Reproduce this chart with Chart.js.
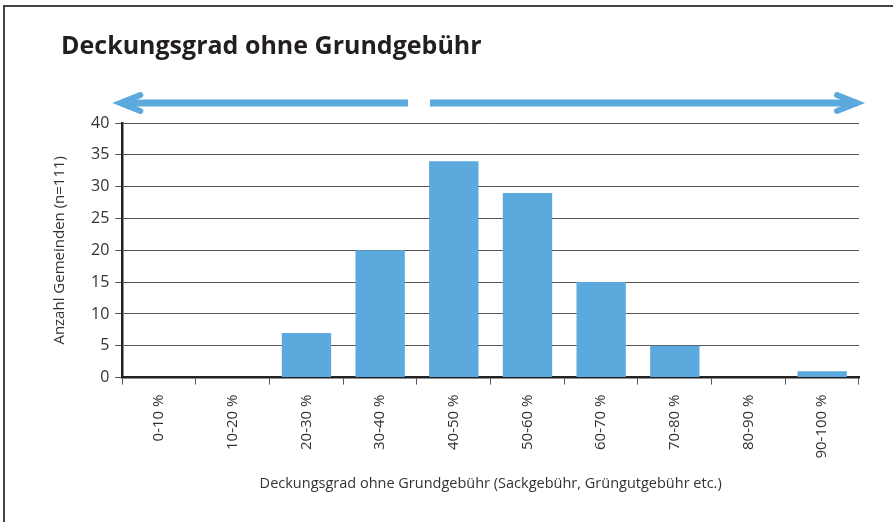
<!DOCTYPE html>
<html>
<head>
<meta charset="utf-8">
<script src="https://cdn.jsdelivr.net/npm/chart.js@4"></script>
<style>
  html, body { margin: 0; padding: 0; background: #fff; }
  #wrap { width: 893px; height: 522px; position: relative; }
</style>
</head>
<body>
<div id="wrap"><canvas id="bar-chart"></canvas></div>
<script>
var title = "Deckungsgrad ohne Grundgebühr";
var categories = ["0-10 %", "10-20 %", "20-30 %", "30-40 %", "40-50 %", "50-60 %", "60-70 %", "70-80 %", "80-90 %", "90-100 %"];
var counts = [0, 0, 7, 20, 34, 29, 15, 5, 0, 1];
var yTicks = [0, 5, 10, 15, 20, 25, 30, 35, 40];

var blue = "#5ca9dd";
var labelFont = "'Open Sans', sans-serif";

// frame on top/left edge, chart title and the two arrows above the plot
var decor = {
    id: 'decor',
    afterDraw: function (chart) {
        var ctx = chart.ctx;
        var area = chart.chartArea;
        var xs = chart.scales.x;
        ctx.save();
        ctx.strokeStyle = "#444";
        ctx.lineWidth = 2;
        ctx.beginPath();
        ctx.moveTo(4, chart.height);
        ctx.lineTo(4, 6);
        ctx.lineTo(chart.width, 6);
        ctx.stroke();

        ctx.fillStyle = "#231f20";
        ctx.font = "bold 25px 'Open Sans', sans-serif";
        ctx.textBaseline = "middle";
        ctx.textAlign = "left";
        ctx.fillText(title, 61, 47);

        var y = area.top - 20;
        var gap = (xs.getPixelForValue(3) + xs.getPixelForValue(4)) / 2;
        ctx.strokeStyle = blue;
        ctx.lineWidth = 7;
        ctx.lineCap = "butt";
        ctx.beginPath();
        ctx.moveTo(area.left - 1, y);
        ctx.lineTo(gap - 9, y);
        ctx.moveTo(gap + 13, y);
        ctx.lineTo(area.right - 2, y);
        ctx.stroke();
        ctx.lineCap = "round";
        ctx.lineJoin = "miter";
        ctx.lineWidth = 6;
        ctx.beginPath();
        ctx.moveTo(area.left + 18, y - 8);
        ctx.lineTo(area.left - 2, y);
        ctx.lineTo(area.left + 18, y + 8);
        ctx.moveTo(area.right - 22, y - 8);
        ctx.lineTo(area.right - 2, y);
        ctx.lineTo(area.right - 22, y + 8);
        ctx.stroke();
        ctx.restore();
    }
};

var chart = new Chart(document.getElementById("bar-chart"), {
    type: 'bar',
    data: {
        labels: categories,
        datasets: [{
            data: counts,
            backgroundColor: blue,
            barPercentage: 0.67,
            categoryPercentage: 1
        }]
    },
    options: {
        responsive: true,
        maintainAspectRatio: false,
        animation: false,
        layout: { padding: { left: 51, right: 34, top: 123, bottom: 29 } },
        plugins: {
            legend: { display: false },
            tooltip: { enabled: false },
            title: { display: false }
        },
        scales: {
            x: {
                grid: { drawOnChartArea: false, drawTicks: true, tickLength: 7, color: '#555' },
                border: { color: '#222', width: 2.5 },
                ticks: {
                    color: '#333',
                    font: { family: labelFont, size: 15 },
                    minRotation: 90,
                    maxRotation: 90,
                    padding: 10
                },
                title: {
                    display: true,
                    text: 'Deckungsgrad ohne Grundgebühr (Sackgebühr, Grüngutgebühr etc.)',
                    color: '#333',
                    font: { family: labelFont, size: 14.5 },
                    padding: { top: 7, bottom: 0 }
                }
            },
            y: {
                min: 0,
                max: 40,
                afterBuildTicks: function (scale) {
                    scale.ticks = yTicks.map(function (v) { return { value: v }; });
                },
                grid: { color: '#555', lineWidth: 1, tickLength: 7 },
                border: { color: '#222', width: 2.5 },
                ticks: {
                    color: '#333',
                    font: { family: labelFont, size: 16 },
                    padding: 6
                },
                title: {
                    display: true,
                    text: 'Anzahl Gemeinden (n=111)',
                    color: '#333',
                    font: { family: labelFont, size: 15 },
                    padding: { top: 0, bottom: 16 }
                }
            }
        }
    },
    plugins: [decor]
});
</script>
</body>
</html>
